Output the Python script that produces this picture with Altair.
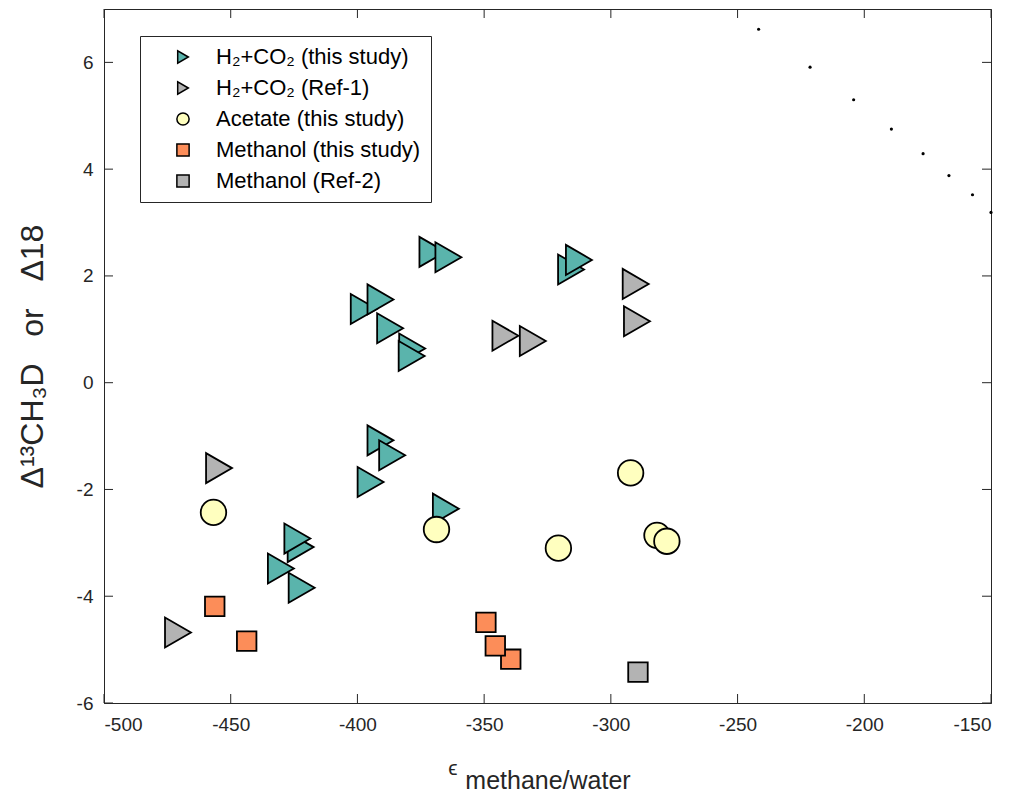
import altair as alt
import pandas as pd

# ---- data ----
teal_x = [-370.4, -364.1, -315.7, -312.6, -397.5, -390.9, -387.1, -378.4, -378.6,
          -390.9, -386.3, -394.8, -365.1, -422.4, -423.7, -430.2, -422.0]
teal_y = [2.45, 2.35, 2.12, 2.30, 1.38, 1.56, 1.02, 0.64, 0.50,
          -1.08, -1.36, -1.86, -2.36, -3.08, -2.92, -3.48, -3.84]
ref1_x = [-290.2, -289.7, -341.6, -330.8, -454.6, -470.8]
ref1_y = [1.85, 1.15, 0.88, 0.78, -1.60, -4.68]
acet_x = [-456.8, -368.8, -292.2, -320.7, -281.8, -277.9]
acet_y = [-2.43, -2.75, -1.69, -3.10, -2.86, -2.97]
meoh_x = [-456.3, -443.7, -349.3, -339.5, -345.6]
meoh_y = [-4.19, -4.84, -4.49, -5.18, -4.93]
ref2_x = [-289.3]
ref2_y = [-5.42]
eq_x = [-241.7, -221.4, -204.2, -189.3, -176.8, -166.6, -157.3, -150.0]
eq_y = [6.62, 5.91, 5.30, 4.75, 4.29, 3.88, 3.52, 3.19]

groups = ["H₂+CO₂ (this study)", "H₂+CO₂ (Ref-1)", "Acetate (this study)",
          "Methanol (this study)", "Methanol (Ref-2)"]
colors = ["#5ab4ac", "#b3b3b3", "#ffffbf", "#fc8d59", "#b3b3b3"]
shapes = ["triangle-right", "triangle-right", "circle", "square", "square"]

x_ticks = [-500, -450, -400, -350, -300, -250, -200, -150]
y_ticks = [-6, -4, -2, 0, 2, 4, 6]

series = [(teal_x, teal_y), (ref1_x, ref1_y), (acet_x, acet_y), (meoh_x, meoh_y), (ref2_x, ref2_y)]
rows = []
for g, (xs, ys) in zip(groups, series):
    for a, b in zip(xs, ys):
        rows.append({"eps": a, "d": b, "group": g})
df = pd.DataFrame(rows)
df["order"] = range(len(df))
eq_df = pd.DataFrame({"eps": eq_x, "d": eq_y})
xt_df = pd.DataFrame({"v": x_ticks})
yt_df = pd.DataFrame({"v": y_ticks})

W, H = 887, 694
FONT = "Liberation Sans"
AX = "#262626"
TL = 9
NB = "\u00a0"

xscale = alt.Scale(domain=[-500, -150], nice=False, zero=False)
yscale = alt.Scale(domain=[-6, 7], nice=False, zero=False)

xaxis = alt.Axis(values=x_ticks, title="methane/water", grid=False, ticks=False,
                 labelExpr="toString(datum.value)",
                 labelFontSize=19, labelPadding=12, labelColor=AX, domainColor=AX,
                 titleFontSize=25, titleFontWeight="normal", titleColor=AX,
                 titleY=85, titleBaseline="alphabetic", titleFont=FONT, labelFont=FONT)
yaxis = alt.Axis(values=y_ticks, title="Δ¹³CH₃D" + NB * 3 + "or" + NB * 3 + "Δ18",
                 grid=False, ticks=False,
                 labelExpr="toString(datum.value)",
                 labelFontSize=19, labelPadding=11, labelColor=AX, domainColor=AX,
                 titleFontSize=32, titleFontWeight="normal", titleColor=AX,
                 titleX=-72, titleBaseline="middle", titleFont=FONT, labelFont=FONT)

legend = alt.Legend(title=None, orient="none", legendX=36, legendY=27,
                    fillColor="white", strokeColor=AX, padding=10,
                    labelFontSize=22, labelFont=FONT, labelColor="black", labelLimit=400,
                    symbolSize=150, symbolStrokeColor="black", symbolStrokeWidth=1.5,
                    symbolOffset=22, labelOffset=22, rowPadding=9)

cscale = alt.Scale(domain=groups, range=colors)
sscale = alt.Scale(domain=groups, range=shapes)


def layer_for(sel, size):
    return alt.Chart(df[df["group"].isin(sel)]).mark_point(
        filled=True, stroke="black", strokeWidth=1.8, opacity=1, size=size).encode(
        x=alt.X("eps:Q", scale=xscale, axis=xaxis),
        y=alt.Y("d:Q", scale=yscale, axis=yaxis),
        color=alt.Color("group:N", scale=cscale, legend=legend),
        shape=alt.Shape("group:N", scale=sscale, legend=legend),
        order=alt.Order("order:Q"),
    )


tri = layer_for(groups[0:2], 900)
circ = layer_for(groups[2:3], 650)
sq = layer_for(groups[3:5], 380)

eq = alt.Chart(eq_df).mark_point(filled=True, color="black", size=10, opacity=1).encode(
    x="eps:Q", y="d:Q")

bt = alt.Chart(xt_df).mark_rule(color=AX, strokeWidth=1).encode(
    x="v:Q", y=alt.value(H), y2=alt.value(H - TL))
tt = alt.Chart(xt_df).mark_rule(color=AX, strokeWidth=1).encode(
    x="v:Q", y=alt.value(0), y2=alt.value(TL))
lt = alt.Chart(yt_df).mark_rule(color=AX, strokeWidth=1).encode(
    y="v:Q", x=alt.value(0), x2=alt.value(TL))
rt = alt.Chart(yt_df).mark_rule(color=AX, strokeWidth=1).encode(
    y="v:Q", x=alt.value(W), x2=alt.value(W - TL))

eps_txt = alt.Chart(pd.DataFrame({"t": ["ϵ"]})).mark_text(
    fontSize=21, font=FONT, color=AX, align="center", baseline="alphabetic").encode(
    text="t:N", x=alt.value(349), y=alt.value(766))

chart = alt.layer(bt, tt, lt, rt, tri, circ, sq, eq, eps_txt).properties(
    width=W, height=H,
    autosize=alt.AutoSizeParams(type="none"),
    padding={"left": 96, "top": 1, "right": 12, "bottom": 92},
).configure_view(stroke=AX, strokeWidth=1).configure_legend(strokeWidth=1)

chart.save("out.html", embed_options={"renderer": "svg", "actions": False})
